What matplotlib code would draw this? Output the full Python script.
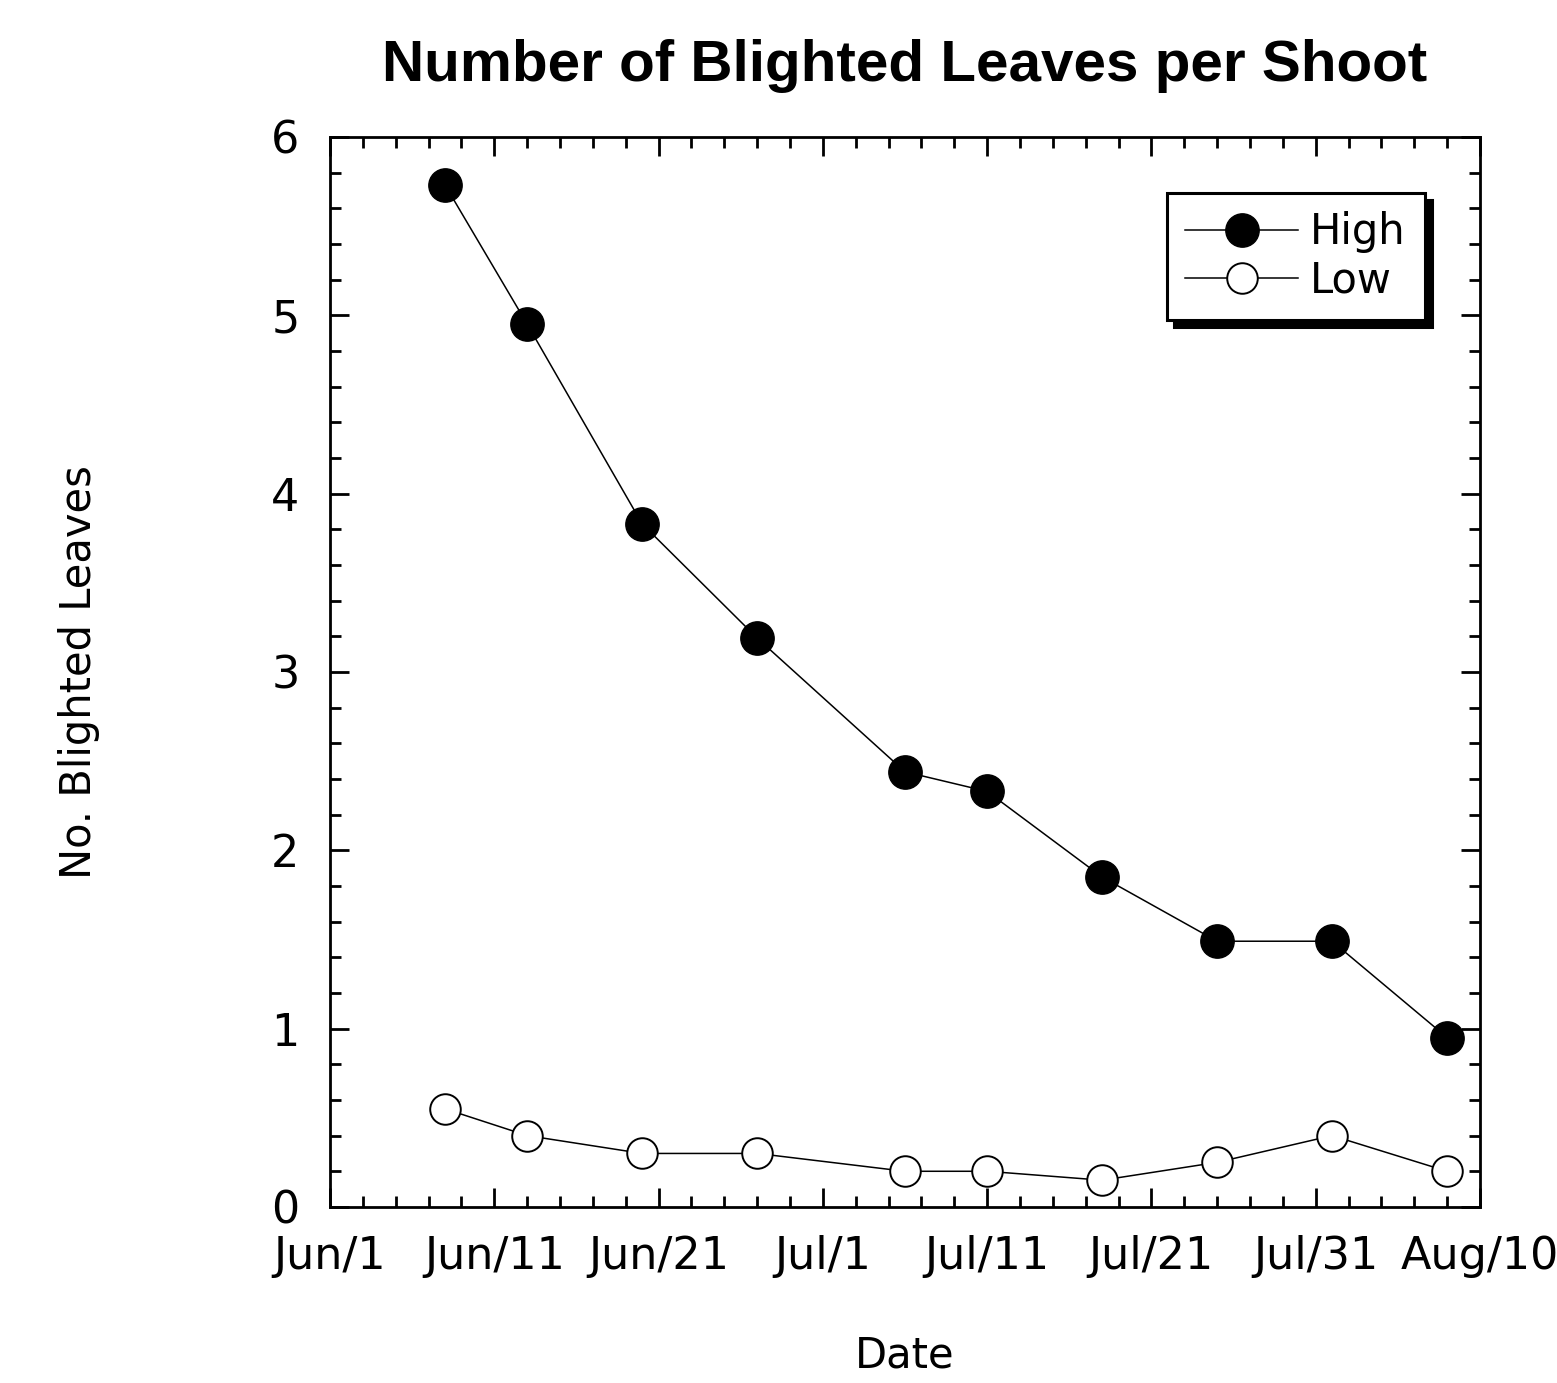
import datetime as dt
import matplotlib
matplotlib.use("Agg")
import matplotlib.pyplot as plt
import matplotlib.dates as mdates
from matplotlib.ticker import FuncFormatter

plt.rcParams['font.family'] = ['DejaVu Sans']

# data
dates = ["2000-06-08", "2000-06-13", "2000-06-20", "2000-06-27", "2000-07-06",
         "2000-07-11", "2000-07-18", "2000-07-25", "2000-08-01", "2000-08-08"]
high = [5.73, 4.95, 3.83, 3.19, 2.44, 2.33, 1.85, 1.49, 1.49, 0.95]
low = [0.55, 0.40, 0.30, 0.30, 0.20, 0.20, 0.15, 0.25, 0.40, 0.20]

x = [dt.datetime.strptime(d, "%Y-%m-%d") for d in dates]

fig = plt.figure(figsize=(15.57, 13.83), dpi=100)
ax = fig.add_axes([0.212, 0.1273, 0.7385, 0.7737])

ax.plot(x, high, color='black', lw=1.1, marker='o', ms=24,
        mfc='black', mec='black', label='High')
ax.plot(x, low, color='black', lw=1.1, marker='o', ms=22,
        mfc='white', mec='black', mew=1.4, label='Low')

start = dt.datetime(2000, 6, 1)
ax.set_xlim(start, dt.datetime(2000, 8, 10))
ax.set_ylim(0, 6)

ax.set_xticks([start + dt.timedelta(days=10 * i) for i in range(8)])
ax.set_xticks([start + dt.timedelta(days=2 * i) for i in range(36)], minor=True)


def fmt(v, pos):
    d = mdates.num2date(v)
    return d.strftime("%b") + "/" + str(d.day)


ax.xaxis.set_major_formatter(FuncFormatter(fmt))
ax.set_yticks(range(7))
ax.set_yticks([i * 0.2 for i in range(31)], minor=True)

ax.tick_params(which='both', direction='in', top=True, right=True, width=2, color='black')
ax.tick_params(which='major', length=14, labelsize=32)
ax.tick_params(axis='y', which='major', pad=22)
ax.tick_params(axis='x', which='major', pad=20)
ax.tick_params(which='minor', length=8)
for s in ax.spines.values():
    s.set_linewidth(2)

ax.set_title("Number of Blighted Leaves per Shoot", fontsize=42,
             fontweight='bold', pad=40, family=['Liberation Sans', 'DejaVu Sans'])
ax.set_ylabel("No. Blighted Leaves", fontsize=30)
ax.set_xlabel("Date", fontsize=30, va='baseline')
ax.yaxis.set_label_coords(-0.2, 0.5)
ax.xaxis.set_label_coords(0.5, -0.1505)

leg = ax.legend(loc='upper right', bbox_to_anchor=(0.952, 0.948), borderaxespad=0,
                fancybox=False, edgecolor='black', framealpha=1, fontsize=30,
                handlelength=2.7, handletextpad=0.3, labelspacing=0.15,
                borderpad=0.45,
                shadow={'ox': 5, 'oy': -5, 'color': 'black', 'alpha': 1})
leg.get_frame().set_linewidth(2.2)

fig.savefig("out.png", dpi=100)
